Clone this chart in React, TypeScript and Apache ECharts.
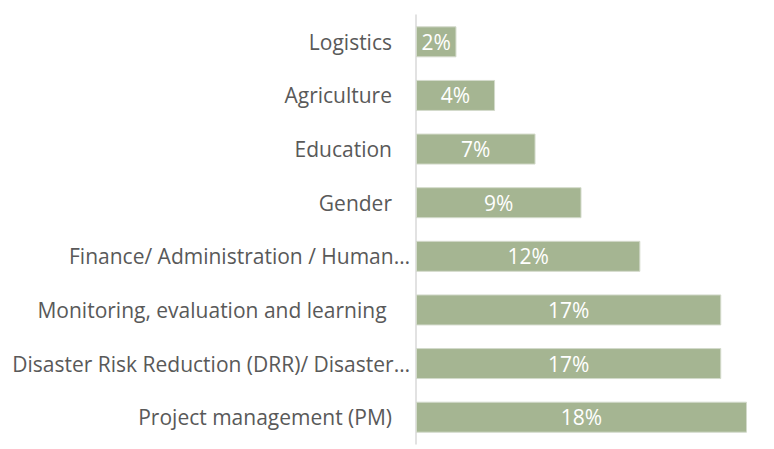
import React, { useEffect, useRef } from "react";
import * as echarts from "echarts";

const categories = [
  "Logistics",
  "Agriculture",
  "Education",
  "Gender",
  "Finance/ Administration / Human…",
  "Monitoring, evaluation and learning ",
  "Disaster Risk Reduction (DRR)/ Disaster…",
  "Project management (PM)",
];
const values = [2.2, 4.3, 6.5, 9.0, 12.2, 16.6, 16.6, 18.0];

const FONT = "Open Sans";

export default function App() {
  const ref = useRef<HTMLDivElement>(null);
  useEffect(() => {
    document.body.style.margin = "0";
    const chart = echarts.init(ref.current!, null, { renderer: "svg" });
    chart.setOption({
      animation: false,
      grid: { left: 416, right: 27, top: 15, bottom: 5, containLabel: false },
      xAxis: {
        type: "value",
        min: 0,
        max: 18,
        show: false,
      },
      yAxis: {
        type: "category",
        data: categories,
        inverse: true,
        axisLine: { show: true, lineStyle: { color: "#d9d9d9", width: 1.5 } },
        axisTick: { show: false },
        axisLabel: {
          margin: 6,
          formatter: (v: string) => (v.endsWith("…") ? `{e|${v}}` : `{n|${v}}`),
          rich: {
            e: { fontFamily: FONT, fontSize: 21, color: "#595959" },
            n: { fontFamily: FONT, fontSize: 21, color: "#595959", padding: [0, 18, 0, 0] },
          },
        },
      },
      series: [
        {
          type: "bar",
          data: values,
          barWidth: 31,
          itemStyle: { color: "#a5b592", borderColor: "#d3dacb", borderWidth: 1 },
          label: {
            show: true,
            position: "inside",
            color: "#ffffff",
            fontFamily: FONT,
            fontSize: 21,
            formatter: (p: any) => `${Math.round(p.value)}%`,
          },
        },
      ],
    });
    return () => chart.dispose();
  }, []);
  return <div ref={ref} style={{ width: 774, height: 449 }} />;
}
